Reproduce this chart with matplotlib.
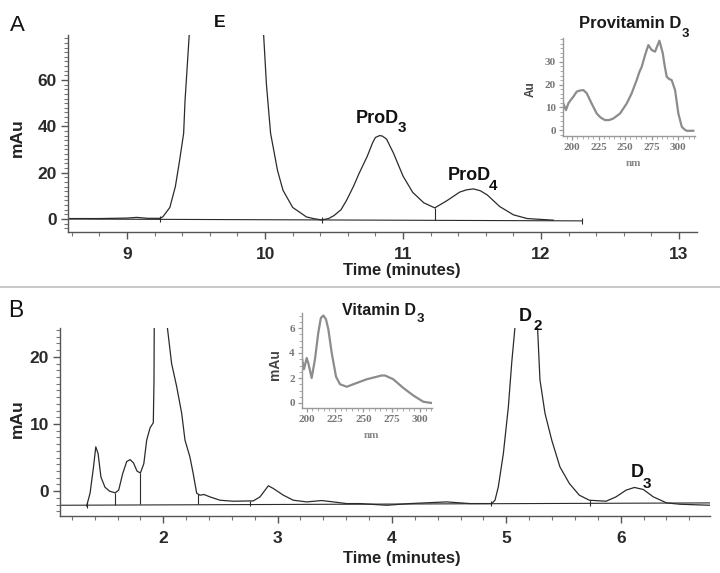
import matplotlib
matplotlib.use("Agg")
import matplotlib.pyplot as plt
from matplotlib.lines import Line2D
from matplotlib.ticker import MultipleLocator

plt.rcParams['font.family'] = ['Liberation Sans', 'DejaVu Sans']
plt.rcParams['font.weight'] = 'bold'

W, H = 720, 573

# ---- panel A chromatogram (min, mAu) ----
a_time = [8.57, 8.80, 9.00, 9.07, 9.15, 9.24, 9.26, 9.31, 9.35, 9.38, 9.41, 9.42,
          9.435, 9.45, 9.50, 9.95, 9.99, 10.01, 10.04, 10.09, 10.13, 10.20, 10.30,
          10.35, 10.41, 10.46, 10.50, 10.55, 10.59, 10.64, 10.68, 10.74, 10.78, 10.80,
          10.83, 10.85, 10.88, 10.93, 11.00, 11.07, 11.15, 11.23, 11.32, 11.41,
          11.46, 11.51, 11.56, 11.61, 11.70, 11.80, 11.90, 12.09]
a_signal = [0.2, 0.2, 0.4, 0.7, 0.3, 0.3, 1.0, 5, 14, 25, 37, 51,
            65, 79, 120, 120, 79, 58, 37, 21, 12.4, 5, 0.9,
            0.2, -0.4, 0.2, 1.5, 4, 8, 14, 19.5, 27, 33, 35.2,
            36, 35.8, 34.5, 28.5, 18.5, 11.5, 7, 4.8, 8, 11.6,
            12.6, 13, 12.2, 10.4, 5.4, 1.8, 0.2, -0.5]
a_base_t = [8.57, 12.30]
a_base_v = [0.0, -0.8]
a_mark_t = [9.24, 10.41, 12.30]
a_mark_v = [-0.1, -0.5, -0.8]
a_drop_t = [11.23]
a_drop_top = [4.8]
a_drop_bot = [-0.6]
a_xticks = [9, 10, 11, 12, 13]
a_yticks = [0, 20, 40, 60]

# ---- panel A inset: provitamin D3 spectrum (nm, Au) ----
ia_nm = [191.8, 194.3, 196.5, 198.7, 201.3, 204.4, 207.5, 210.7, 213.9, 218.5, 223.3,
         227.0, 231.1, 235.0, 239.0, 245.3, 251.6, 256.3, 261.0, 263.5, 265.8, 268.9,
         272.0, 275.2, 278.3, 282.4, 285.6, 287.5, 289.3, 291.5, 294.0, 297.2, 300.3,
         303.5, 306.0, 308.2, 314.4]
ia_au = [11.7, 8.8, 11.7, 13.2, 14.7, 16.9, 17.4, 17.6, 16.2, 11.7, 7.3,
         5.5, 4.4, 4.4, 5.1, 7.3, 11.7, 16.2, 22.0, 25.5, 27.9, 33.0,
         37.4, 35.2, 34.5, 39.3, 33.8, 28.0, 23.5, 22.5, 22.0, 17.6, 7.3,
         1.5, 0.3, -0.3, -0.3]
ia_xticks = [200, 225, 250, 275, 300]
ia_yticks = [0, 10, 20, 30]

# ---- panel B chromatogram (min, mAu) ----
b_time = [1.33, 1.36, 1.39, 1.41, 1.43, 1.455, 1.49, 1.53, 1.58, 1.61, 1.645, 1.68,
          1.71, 1.74, 1.77, 1.80, 1.83, 1.855, 1.884, 1.913, 1.919, 1.925, 2.025,
          2.035, 2.073, 2.117, 2.161, 2.19, 2.233, 2.262, 2.292, 2.321, 2.356, 2.408,
          2.496, 2.612, 2.787, 2.846, 2.919, 2.962, 3.05, 3.137, 3.254, 3.385, 3.487,
          3.604, 3.72, 3.954, 4.157, 4.478, 4.682, 4.872, 4.901, 4.93, 4.974, 5.018,
          5.047, 5.076, 5.10, 5.25, 5.274, 5.294, 5.338, 5.397, 5.469, 5.551, 5.638,
          5.726, 5.872, 5.959, 6.047, 6.12, 6.198, 6.285, 6.402, 6.52, 6.781]
b_signal = [-2.2, -0.3, 3.6, 6.6, 5.6, 2.1, 0.6, 0.0, -0.25, 0.15, 2.6, 4.4,
            4.7, 4.2, 3.0, 2.7, 4.1, 7.6, 9.4, 10.2, 16.6, 40, 40,
            24.5, 19.0, 15.6, 11.6, 7.6, 5.1, 2.6, -0.3, -0.6, -0.5, -0.85,
            -1.35, -1.5, -1.45, -0.85, 0.8, 0.4, -0.6, -1.35, -1.6, -1.4, -1.6,
            -1.85, -1.85, -2.1, -1.85, -1.6, -1.85, -1.85, -1.35, 0.65, 5.6, 12.6,
            19.1, 24.5, 40, 40, 24.0, 16.6, 11.6, 7.6, 3.6, 1.15, -0.6,
            -1.35, -1.5, -0.85, 0.15, 0.55, 0.25, -0.85, -1.75, -1.95, -2.1]
b_base_t = [1.10, 6.78]
b_base_v = [-2.1, -1.75]
b_mark_t = [1.33, 2.76, 4.87, 5.73]
b_mark_v = [-2.05, -1.85, -1.8, -1.78]
b_drop_t = [1.578, 1.80, 2.30]
b_drop_top = [-0.25, 2.7, -0.4]
b_drop_bot = [-2.0, -1.95, -1.9]
b_xticks = [2, 3, 4, 5, 6]
b_yticks = [0, 10, 20]

# ---- panel B inset: vitamin D3 spectrum (nm, mAu) ----
ib_nm = [195.6, 197.6, 200.0, 201.4, 204.4, 207.3, 210.2, 212.5, 214.7, 217.0, 219.1,
         222.1, 225.9, 229.4, 235.3, 244.1, 253.0, 261.8, 266.0, 269.1, 276.4, 285.3,
         294.1, 302.9, 310.3]
ib_mau = [3.7, 2.7, 3.6, 3.2, 2.0, 3.5, 5.6, 6.8, 7.0, 6.7, 5.9,
          4.0, 2.1, 1.5, 1.3, 1.6, 1.9, 2.1, 2.2, 2.2, 1.9, 1.2,
          0.6, 0.1, 0.0]
ib_xticks = [200, 225, 250, 275, 300]
ib_yticks = [0, 2, 4, 6]

TRACE = '#2b2b2b'
SPEC = '#8c8c8c'


def rect(left, top, right, bottom):
    return [left / W, 1 - bottom / H, (right - left) / W, (bottom - top) / H]


def ftext(x, y, s, **kw):
    kw.setdefault('va', 'baseline')
    fig.text(x / W, 1 - y / H, s, **kw)


def style_main(ax, xticks, yticks, xminor, yminor):
    for s in ['top', 'right']:
        ax.spines[s].set_visible(False)
    for s in ['left', 'bottom']:
        ax.spines[s].set_color('#555555')
        ax.spines[s].set_linewidth(1.0)
    ax.set_xticks(xticks)
    ax.set_yticks(yticks)
    ax.xaxis.set_minor_locator(MultipleLocator(xminor))
    ax.yaxis.set_minor_locator(MultipleLocator(yminor))
    ax.tick_params(which='major', direction='out', length=5, width=1,
                   color='#555555', labelsize=12.5, labelcolor='#2a2a2a')
    ax.tick_params(which='minor', direction='out', length=3, width=0.8, color='#777777')
    ax.tick_params(axis='x', pad=6)
    ax.tick_params(axis='y', pad=3)


def style_inset(ax, xticks, yticks, xminor, yminor):
    ax.patch.set_alpha(0)
    for s in ['top', 'right']:
        ax.spines[s].set_visible(False)
    for s in ['left', 'bottom']:
        ax.spines[s].set_color('#999999')
        ax.spines[s].set_linewidth(1.0)
    ax.set_xticks(xticks)
    ax.set_yticks(yticks)
    ax.set_xticklabels([str(t) for t in xticks], family='Liberation Serif',
                       fontweight='bold', fontsize=8, color='#777777')
    ax.set_yticklabels([str(t) for t in yticks], family='Liberation Serif',
                       fontweight='bold', fontsize=8, color='#777777')
    ax.xaxis.set_minor_locator(MultipleLocator(xminor))
    ax.yaxis.set_minor_locator(MultipleLocator(yminor))
    ax.tick_params(which='major', direction='out', length=3, width=0.9, color='#999999', pad=2)
    ax.tick_params(which='minor', direction='out', length=2, width=0.7, color='#aaaaaa')


fig = plt.figure(figsize=(7.2, 5.73), dpi=100)
fig.patch.set_facecolor('white')

# ---------------- panel A ----------------
ax_a = fig.add_axes(rect(68, 35, 697, 232))
ax_a.plot(a_time, a_signal, color=TRACE, lw=0.9)
ax_a.plot(a_base_t, a_base_v, color=TRACE, lw=0.8)
ax_a.vlines(a_mark_t, [v - 1.3 for v in a_mark_v], [v + 1.3 for v in a_mark_v], color=TRACE, lw=0.8)
ax_a.vlines(a_drop_t, a_drop_bot, a_drop_top, color=TRACE, lw=0.8)
ax_a.set_xlim(8.572, 13.13)
ax_a.set_ylim(-5.6, 79.4)
style_main(ax_a, a_xticks, a_yticks, 0.2, 2)

ftext(10, 31, 'A', fontsize=16, fontweight='normal', color='#111111')
ftext(220, 26.7, 'E', fontsize=12.5, ha='center', color='#111111')
ftext(356, 123, 'ProD', fontsize=13, color='#111111')
ftext(398, 132, '3', fontsize=11, color='#111111')
ftext(448, 180, 'ProD', fontsize=13, color='#111111')
ftext(489, 190.5, '4', fontsize=11, color='#111111')
ftext(17.5, 137.5, 'mAu', fontsize=12.5, rotation=90, ha='center', va='center', color='#222222')
ftext(401.5, 274.5, 'Time (minutes)', fontsize=12, ha='center', color='#222222')

# inset A
ax_ia = fig.add_axes(rect(563, 38, 695, 136))
ax_ia.plot(ia_nm, ia_au, color=SPEC, lw=1.6)
ax_ia.set_xlim(191.5, 316)
ax_ia.set_ylim(-2.6, 40.5)
style_inset(ax_ia, ia_xticks, ia_yticks, 5, 2)
ftext(579, 28.3, 'Provitamin D', fontsize=12, color='#1a1a1a')
ftext(682, 36.7, '3', fontsize=9.5, color='#1a1a1a')
ftext(530.5, 89.5, 'Au', fontsize=8.5, rotation=90, ha='center', va='center', color='#444444')
ftext(633.5, 163.5, 'nm', fontsize=8, family='Liberation Serif', ha='center', va='center',
      color='#888888')

# divider between panels
fig.add_artist(Line2D([0, 1], [1 - 287 / H, 1 - 287 / H], color='#c4c4c4', lw=1.3))

# ---------------- panel B ----------------
ax_b = fig.add_axes(rect(60, 328, 710, 516))
ax_b.plot(b_time, b_signal, color=TRACE, lw=0.9)
ax_b.plot(b_base_t, b_base_v, color=TRACE, lw=0.8)
ax_b.vlines(b_mark_t, [v - 0.4 for v in b_mark_v], [v + 0.4 for v in b_mark_v], color=TRACE, lw=0.8)
ax_b.vlines(b_drop_t, b_drop_bot, b_drop_top, color=TRACE, lw=0.8)
ax_b.set_xlim(1.097, 6.781)
ax_b.set_ylim(-3.7, 24.3)
style_main(ax_b, b_xticks, b_yticks, 0.2, 1)

ftext(8, 316.7, 'B', fontsize=16.5, fontweight='normal', color='#111111')
ftext(519, 320.7, 'D', fontsize=13, color='#111111')
ftext(533, 330, '2', fontsize=11, color='#111111')
ftext(631, 477, 'D', fontsize=13, color='#111111')
ftext(643, 488, '3', fontsize=11, color='#111111')
ftext(17.5, 418.5, 'mAu', fontsize=12.5, rotation=90, ha='center', va='center', color='#222222')
ftext(401.5, 563, 'Time (minutes)', fontsize=12, ha='center', color='#222222')

# inset B
ax_ib = fig.add_axes(rect(301.7, 313, 431.7, 408))
ax_ib.plot(ib_nm, ib_mau, color=SPEC, lw=1.6)
ax_ib.set_xlim(195.6, 310.3)
ax_ib.set_ylim(-0.4, 7.2)
style_inset(ax_ib, ib_xticks, ib_yticks, 5, 0.5)
ftext(341.7, 315, 'Vitamin D', fontsize=11.5, color='#1a1a1a')
ftext(416.7, 321.7, '3', fontsize=9.5, color='#1a1a1a')
ftext(275, 364.5, 'mAu', fontsize=10, rotation=90, ha='center', va='center', color='#444444')
ftext(371.5, 436, 'nm', fontsize=8, family='Liberation Serif', ha='center', va='center',
      color='#888888')

fig.savefig('out.png', dpi=100, facecolor='white')
